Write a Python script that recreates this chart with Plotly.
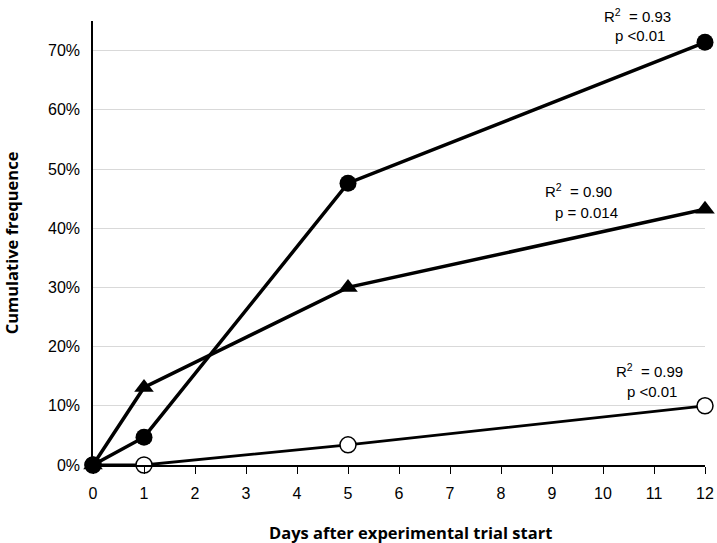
import plotly.graph_objects as go

days = [0, 1, 5, 12]
series_circle = [0.0, 0.047, 0.476, 0.714]
series_triangle = [0.0, 0.131, 0.30, 0.432]
series_open = [0.0, 0.0, 0.034, 0.10]
x_ticks = list(range(0, 13))
y_ticks = [0, 0.1, 0.2, 0.3, 0.4, 0.5, 0.6, 0.7]
y_max = 0.75

fig = go.Figure()
fig.add_trace(go.Scatter(x=days, y=series_open, mode="lines+markers",
                         line=dict(color="black", width=2.8),
                         marker=dict(symbol="circle", size=16, color="white",
                                     line=dict(color="black", width=1.5)),
                         cliponaxis=False, showlegend=False))
fig.add_trace(go.Scatter(x=days, y=series_triangle, mode="lines+markers",
                         line=dict(color="black", width=3.5),
                         marker=dict(symbol="triangle-up", size=17, color="black"),
                         cliponaxis=False, showlegend=False))
fig.add_trace(go.Scatter(x=days, y=series_circle, mode="lines+markers",
                         line=dict(color="black", width=3.5),
                         marker=dict(symbol="circle", size=17, color="black"),
                         cliponaxis=False, showlegend=False))

font_t = dict(family="Liberation Sans, Arial", size=15, color="black")
ann = [
    (10.67, 0.760, "R<sup>2</sup>  = 0.93"),
    (10.72, 0.726, "p <0.01"),
    (9.51, 0.463, "R<sup>2</sup>  = 0.90"),
    (9.67, 0.427, "p = 0.014"),
    (10.92, 0.159, "R<sup>2</sup>  = 0.99"),
    (10.96, 0.125, "p <0.01"),
]
for x, y, t in ann:
    fig.add_annotation(x=x, xref="x", y=y / y_max, yref="paper", text=t,
                       showarrow=False, font=font_t,
                       xanchor="center", yanchor="middle")

title_font = dict(family="Open Sans", size=16.5, color="black", weight="bold")
fig.add_annotation(xref="paper", yref="paper", x=0.5196, y=-0.151,
                   text="Days after experimental trial start", showarrow=False,
                   font=title_font, xanchor="center", yanchor="middle")

fig.update_layout(
    width=717, height=543,
    margin=dict(l=93, r=12, t=21, b=78),
    plot_bgcolor="white", paper_bgcolor="white",
    font=font_t,
    xaxis=dict(range=[0, 12], tickvals=x_ticks, ticktext=[str(v) for v in x_ticks],
               showgrid=False, zeroline=False, showline=True, linecolor="black",
               linewidth=1.5, ticks="outside", ticklen=7, tickcolor="black",
               ticklabelstandoff=6, automargin=False,
               tickfont=dict(family="Liberation Sans, Arial", size=16, color="black")),
    yaxis=dict(range=[0, y_max], tickvals=y_ticks, tickformat=".0%",
               showgrid=True, gridcolor="#d9d9d9", gridwidth=1.2, zeroline=False,
               showline=True, linecolor="black", linewidth=1.5, ticks="",
               ticklabelstandoff=8, automargin=False,
               tickfont=dict(family="Liberation Sans, Arial", size=16, color="black"),
               title=dict(text="Cumulative frequence", font=title_font, standoff=28)),
)
fig.write_html("out.html")
